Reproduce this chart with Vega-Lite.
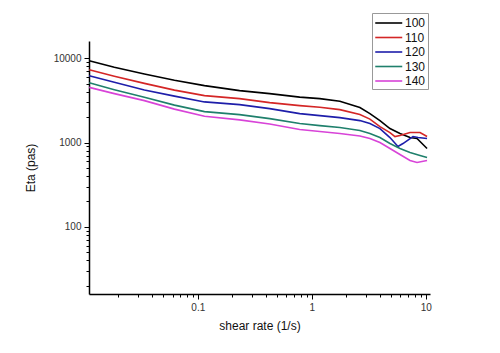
{
  "$schema": "https://vega.github.io/schema/vega-lite/v6.json",
  "width": 341,
  "height": 253,
  "autosize": {"type": "none"},
  "padding": {"left": 89, "top": 41, "right": 70, "bottom": 59},
  "background": "white",
  "config": {
    "view": {"stroke": null},
    "font": "Liberation Sans",
    "axis": {"grid": false, "domainColor": "#000", "domainWidth": 1.5, "tickColor": "#000", "tickWidth": 1, "labelColor": "#333", "labelFontSize": 10, "titleFontSize": 12, "titleFontWeight": "normal", "titleColor": "#111", "labelFont": "Liberation Sans", "titleFont": "Liberation Sans"}
  },
  "data": {"values": [
    {"x": 0.01115, "eta": 9342, "T": "100"},
    {"x": 0.01851, "eta": 7826, "T": "100"},
    {"x": 0.03398, "eta": 6502, "T": "100"},
    {"x": 0.06238, "eta": 5491, "T": "100"},
    {"x": 0.1145, "eta": 4727, "T": "100"},
    {"x": 0.2326, "eta": 4125, "T": "100"},
    {"x": 0.4272, "eta": 3801, "T": "100"},
    {"x": 0.784, "eta": 3455, "T": "100"},
    {"x": 1.176, "eta": 3317, "T": "100"},
    {"x": 1.763, "eta": 3082, "T": "100"},
    {"x": 2.644, "eta": 2596, "T": "100"},
    {"x": 3.237, "eta": 2204, "T": "100"},
    {"x": 3.964, "eta": 1821, "T": "100"},
    {"x": 4.853, "eta": 1465, "T": "100"},
    {"x": 5.943, "eta": 1278, "T": "100"},
    {"x": 7.276, "eta": 1146, "T": "100"},
    {"x": 8.386, "eta": 1118, "T": "100"},
    {"x": 9.28, "eta": 973, "T": "100"},
    {"x": 10.27, "eta": 849, "T": "100"},

    {"x": 0.01115, "eta": 7309, "T": "110"},
    {"x": 0.01851, "eta": 6124, "T": "110"},
    {"x": 0.03398, "eta": 5032, "T": "110"},
    {"x": 0.06238, "eta": 4181, "T": "110"},
    {"x": 0.1145, "eta": 3599, "T": "110"},
    {"x": 0.2326, "eta": 3317, "T": "110"},
    {"x": 0.4272, "eta": 2974, "T": "110"},
    {"x": 0.784, "eta": 2741, "T": "110"},
    {"x": 1.176, "eta": 2617, "T": "110"},
    {"x": 1.763, "eta": 2458, "T": "110"},
    {"x": 2.644, "eta": 2145, "T": "110"},
    {"x": 3.237, "eta": 1897, "T": "110"},
    {"x": 3.964, "eta": 1546, "T": "110"},
    {"x": 4.853, "eta": 1313, "T": "110"},
    {"x": 5.37, "eta": 1178, "T": "110"},
    {"x": 5.943, "eta": 1210, "T": "110"},
    {"x": 7.276, "eta": 1313, "T": "110"},
    {"x": 8.91, "eta": 1313, "T": "110"},
    {"x": 10.27, "eta": 1178, "T": "110"},

    {"x": 0.01115, "eta": 6207, "T": "120"},
    {"x": 0.01851, "eta": 5200, "T": "120"},
    {"x": 0.03398, "eta": 4204, "T": "120"},
    {"x": 0.06238, "eta": 3551, "T": "120"},
    {"x": 0.1145, "eta": 3032, "T": "120"},
    {"x": 0.2326, "eta": 2817, "T": "120"},
    {"x": 0.4272, "eta": 2526, "T": "120"},
    {"x": 0.784, "eta": 2204, "T": "120"},
    {"x": 1.176, "eta": 2087, "T": "120"},
    {"x": 1.763, "eta": 1976, "T": "120"},
    {"x": 2.644, "eta": 1821, "T": "120"},
    {"x": 3.237, "eta": 1679, "T": "120"},
    {"x": 3.964, "eta": 1465, "T": "120"},
    {"x": 4.853, "eta": 1146, "T": "120"},
    {"x": 5.706, "eta": 897, "T": "120"},
    {"x": 6.315, "eta": 973, "T": "120"},
    {"x": 7.733, "eta": 1178, "T": "120"},
    {"x": 8.557, "eta": 1146, "T": "120"},
    {"x": 10.27, "eta": 1115, "T": "120"},

    {"x": 0.01115, "eta": 5130, "T": "130"},
    {"x": 0.01851, "eta": 4238, "T": "130"},
    {"x": 0.03398, "eta": 3436, "T": "130"},
    {"x": 0.06238, "eta": 2779, "T": "130"},
    {"x": 0.1145, "eta": 2328, "T": "130"},
    {"x": 0.2326, "eta": 2145, "T": "130"},
    {"x": 0.4272, "eta": 1923, "T": "130"},
    {"x": 0.784, "eta": 1679, "T": "130"},
    {"x": 1.176, "eta": 1589, "T": "130"},
    {"x": 1.763, "eta": 1505, "T": "130"},
    {"x": 2.644, "eta": 1387, "T": "130"},
    {"x": 3.237, "eta": 1278, "T": "130"},
    {"x": 3.964, "eta": 1146, "T": "130"},
    {"x": 4.853, "eta": 973, "T": "130"},
    {"x": 5.943, "eta": 849, "T": "130"},
    {"x": 7.276, "eta": 761, "T": "130"},
    {"x": 8.91, "eta": 702, "T": "130"},
    {"x": 10.27, "eta": 665, "T": "130"},

    {"x": 0.01115, "eta": 4512, "T": "140"},
    {"x": 0.01851, "eta": 3801, "T": "140"},
    {"x": 0.03398, "eta": 3141, "T": "140"},
    {"x": 0.06238, "eta": 2491, "T": "140"},
    {"x": 0.1145, "eta": 2048, "T": "140"},
    {"x": 0.2326, "eta": 1856, "T": "140"},
    {"x": 0.4272, "eta": 1656, "T": "140"},
    {"x": 0.784, "eta": 1425, "T": "140"},
    {"x": 1.176, "eta": 1350, "T": "140"},
    {"x": 1.763, "eta": 1278, "T": "140"},
    {"x": 2.644, "eta": 1194, "T": "140"},
    {"x": 3.237, "eta": 1115, "T": "140"},
    {"x": 3.964, "eta": 1000, "T": "140"},
    {"x": 4.853, "eta": 849, "T": "140"},
    {"x": 5.943, "eta": 721, "T": "140"},
    {"x": 7.276, "eta": 612, "T": "140"},
    {"x": 8.386, "eta": 580, "T": "140"},
    {"x": 10.27, "eta": 612, "T": "140"}
  ]},
  "mark": {"type": "line", "strokeWidth": 1.6, "clip": true},
  "encoding": {
    "x": {
      "field": "x", "type": "quantitative",
      "scale": {"type": "log", "domain": [0.0111, 10.9], "nice": false},
      "axis": {
        "title": "shear rate (1/s)",
        "values": [0.02,0.03,0.04,0.05,0.06,0.07,0.08,0.09,0.1,0.2,0.3,0.4,0.5,0.6,0.7,0.8,0.9,1,2,3,4,5,6,7,8,9,10],
        "labelExpr": "datum.value==0.1?'0.1':datum.value==1?'1':datum.value==10?'10':''",
        "tickSize": {"condition": {"test": "datum.value==0.1||datum.value==1||datum.value==10", "value": 5}, "value": 3},
        "labelPadding": 3,
        "titlePadding": 8,
        "labelFlush": false
      }
    },
    "y": {
      "field": "eta", "type": "quantitative",
      "scale": {"type": "log", "domain": [16, 16000], "nice": false},
      "axis": {
        "title": "Eta (pas)",
        "values": [20,30,40,50,60,70,80,90,100,200,300,400,500,600,700,800,900,1000,2000,3000,4000,5000,6000,7000,8000,9000,10000],
        "labelExpr": "datum.value==100?'100':datum.value==1000?'1000':datum.value==10000?'10000':''",
        "tickSize": {"condition": {"test": "datum.value==100||datum.value==1000||datum.value==10000", "value": 5}, "value": 3},
        "labelPadding": 3,
        "titlePadding": 16,
        "labelFlush": false
      }
    },
    "color": {
      "field": "T", "type": "nominal",
      "scale": {"domain": ["100","110","120","130","140"], "range": ["#000000","#d42626","#1e1eaa","#1f806c","#d844d8"]},
      "legend": {
        "title": null,
        "orient": "none",
        "legendX": 283,
        "legendY": -28,
        "symbolType": "M-1,0H3",
        "symbolSize": 182,
        "symbolStrokeWidth": 1.6,
        "labelFontSize": 12,
        "labelColor": "#111",
        "labelFont": "Liberation Sans",
        "strokeColor": "#999",
        "fillColor": "white",
        "padding": 2,
        "rowPadding": 0.5,
        "labelOffset": 15
      }
    }
  }
}
